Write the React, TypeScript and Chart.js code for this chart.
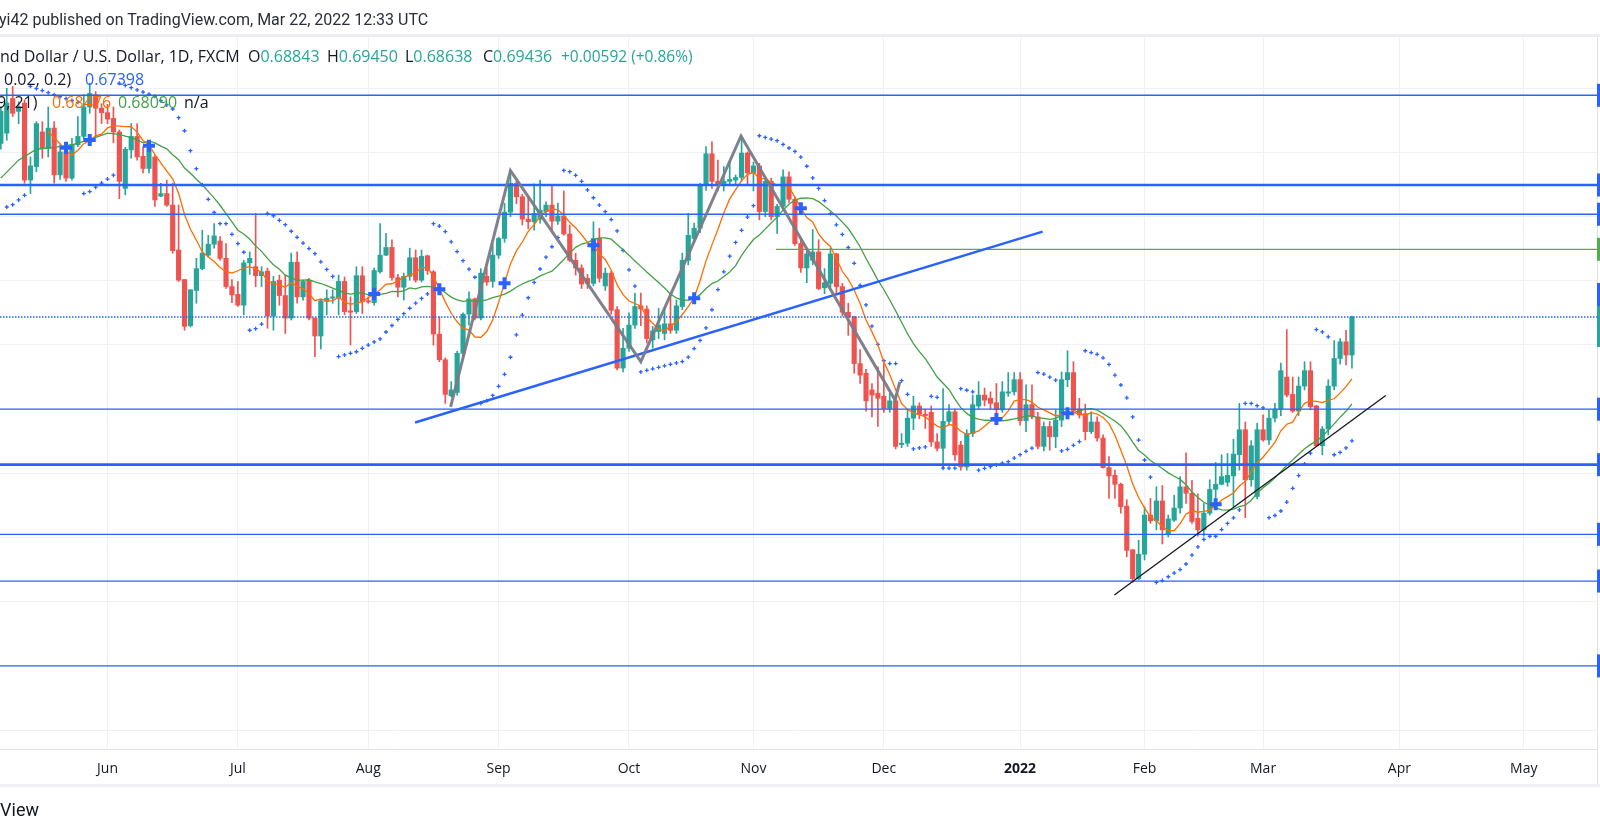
import React, { useEffect, useRef } from "react";
import { Chart, registerables } from "chart.js";

Chart.register(...registerables);

// ---------------- data ----------------
// bar index: Jun 1 2021 = 0, one step per trading day
const FIRST_BAR = -18;

const opens = [
  0.7214, 0.7230, 0.7284, 0.7264, 0.7277, 0.7157, 0.7178, 0.7232, 0.7206, 0.7238,
  0.7165, 0.7201, 0.7160, 0.7212, 0.7225, 0.7271, 0.7290, 0.7269, 0.7262, 0.7253,
  0.7232, 0.7144, 0.7204, 0.7225, 0.7194, 0.7175, 0.7193, 0.7132, 0.7136, 0.7118,
  0.7048, 0.7002, 0.6930, 0.6985, 0.7019, 0.7040, 0.7057, 0.7062, 0.7035, 0.6991,
  0.6979, 0.6962, 0.7028, 0.7022, 0.7008, 0.7015, 0.6945, 0.7001, 0.6977, 0.6942,
  0.7029, 0.6975, 0.7001, 0.6942, 0.6914, 0.6968, 0.6973, 0.6973, 0.6999, 0.6953,
  0.6952, 0.7008, 0.6969, 0.6966, 0.7014, 0.7040, 0.7052, 0.7005, 0.6990, 0.7007,
  0.7036, 0.7001, 0.7039, 0.7014, 0.6917, 0.6877, 0.6821, 0.6826, 0.6887, 0.6948,
  0.6972, 0.6942, 0.7007, 0.6999, 0.7040, 0.7066, 0.7107, 0.7152, 0.7131, 0.7096,
  0.7092, 0.7096, 0.7108, 0.7118, 0.7093, 0.7101, 0.7073, 0.7032, 0.7020, 0.7004,
  0.6996, 0.7066, 0.6992, 0.7012, 0.6955, 0.6864, 0.6895, 0.6931, 0.6961, 0.6956,
  0.6908, 0.6921, 0.6918, 0.6933, 0.6923, 0.6960, 0.7032, 0.7066, 0.7082, 0.7149,
  0.7198, 0.7155, 0.7149, 0.7155, 0.7157, 0.7161, 0.7199, 0.7168, 0.7179, 0.7108,
  0.7155, 0.7100, 0.7116, 0.7162, 0.7127, 0.7058, 0.7020, 0.7032, 0.7045, 0.6989,
  0.6996, 0.7042, 0.6991, 0.6951, 0.6944, 0.6871, 0.6856, 0.6830, 0.6825, 0.6820,
  0.6801, 0.6813, 0.6745, 0.6747, 0.6786, 0.6805, 0.6792, 0.6795, 0.6749, 0.6739,
  0.6781, 0.6796, 0.6744, 0.6710, 0.6762, 0.6805, 0.6822, 0.6817, 0.6810, 0.6799,
  0.6825, 0.6827, 0.6846, 0.6782, 0.6807, 0.6788, 0.6742, 0.6773, 0.6757, 0.6783,
  0.6846, 0.6857, 0.6800, 0.6793, 0.6765, 0.6780, 0.6755, 0.6709, 0.6697, 0.6683,
  0.6649, 0.6581, 0.6536, 0.6574, 0.6635, 0.6626, 0.6657, 0.6605, 0.6627, 0.6646,
  0.6679, 0.6669, 0.6630, 0.6612, 0.6638, 0.6675, 0.6683, 0.6686, 0.6696, 0.6729,
  0.6768, 0.6690, 0.6664, 0.6768, 0.6752, 0.6786, 0.6800, 0.6850, 0.6823, 0.6797,
  0.6836, 0.6860, 0.6805, 0.6743, 0.6769, 0.6836, 0.6879, 0.6905, 0.68843,
];

const highs = [
  0.7271, 0.7300, 0.7303, 0.7279, 0.7282, 0.7193, 0.7248, 0.7248, 0.7271, 0.7248,
  0.7212, 0.7214, 0.7222, 0.7256, 0.7290, 0.7308, 0.7295, 0.7276, 0.7275, 0.7271,
  0.7235, 0.7208, 0.7245, 0.7245, 0.7209, 0.7219, 0.7195, 0.7152, 0.7157, 0.7152,
  0.7118, 0.7002, 0.6986, 0.7035, 0.7079, 0.7071, 0.7089, 0.7069, 0.7058, 0.7002,
  0.6999, 0.7032, 0.7045, 0.7105, 0.7022, 0.7020, 0.7007, 0.7009, 0.7009, 0.7043,
  0.7045, 0.7001, 0.7004, 0.6942, 0.6971, 0.6986, 0.6986, 0.7009, 0.7006, 0.6975,
  0.7022, 0.7022, 0.6975, 0.7020, 0.7089, 0.7074, 0.7064, 0.7010, 0.7012, 0.7051,
  0.7048, 0.7048, 0.7040, 0.7016, 0.6944, 0.6880, 0.6843, 0.6890, 0.6950, 0.6983,
  0.6973, 0.7019, 0.7020, 0.7058, 0.7068, 0.7121, 0.7172, 0.7155, 0.7135, 0.7131,
  0.7151, 0.7157, 0.7123, 0.7150, 0.7121, 0.7140, 0.7087, 0.7043, 0.7025, 0.7010,
  0.7092, 0.7082, 0.7020, 0.7015, 0.6960, 0.6926, 0.6950, 0.6981, 0.6981, 0.6961,
  0.6929, 0.6957, 0.6957, 0.6978, 0.6970, 0.7043, 0.7105, 0.7090, 0.7152, 0.7209,
  0.7217, 0.7188, 0.7178, 0.7188, 0.7165, 0.7226, 0.7201, 0.7185, 0.7183, 0.7160,
  0.7160, 0.7119, 0.7173, 0.7170, 0.7130, 0.7064, 0.7048, 0.7080, 0.7064, 0.7019,
  0.7051, 0.7043, 0.6996, 0.6965, 0.6945, 0.6893, 0.6862, 0.6840, 0.6866, 0.6871,
  0.6825, 0.6823, 0.6762, 0.6799, 0.6820, 0.6810, 0.6800, 0.6805, 0.6762, 0.6832,
  0.6807, 0.6800, 0.6750, 0.6768, 0.6822, 0.6843, 0.6833, 0.6827, 0.6840, 0.6843,
  0.6857, 0.6857, 0.6857, 0.6838, 0.6838, 0.6795, 0.6780, 0.6781, 0.6799, 0.6858,
  0.6891, 0.6874, 0.6817, 0.6808, 0.6796, 0.6788, 0.6760, 0.6726, 0.6705, 0.6685,
  0.6659, 0.6581, 0.6596, 0.6648, 0.6661, 0.6679, 0.6681, 0.6635, 0.6666, 0.6695,
  0.6732, 0.6689, 0.6668, 0.6653, 0.6690, 0.6717, 0.6729, 0.6731, 0.6753, 0.6809,
  0.6780, 0.6751, 0.6778, 0.6791, 0.6799, 0.6809, 0.6872, 0.6924, 0.6850, 0.6850,
  0.6874, 0.6874, 0.6806, 0.6773, 0.6846, 0.6907, 0.6910, 0.6923, 0.6945,
];

const lows = [
  0.7205, 0.7219, 0.7256, 0.7245, 0.7152, 0.7136, 0.7170, 0.7191, 0.7193, 0.7152,
  0.7158, 0.7155, 0.7157, 0.7209, 0.7219, 0.7261, 0.7224, 0.7245, 0.7245, 0.7215,
  0.7128, 0.7134, 0.7191, 0.7188, 0.7168, 0.7168, 0.7116, 0.7131, 0.7116, 0.7043,
  0.6999, 0.6923, 0.6928, 0.6965, 0.7017, 0.7037, 0.7051, 0.7032, 0.6988, 0.6966,
  0.6960, 0.6947, 0.7010, 0.6991, 0.6991, 0.6926, 0.6923, 0.6962, 0.6918, 0.6939,
  0.6965, 0.6970, 0.6939, 0.6882, 0.6894, 0.6947, 0.6965, 0.6947, 0.6947, 0.6900,
  0.6949, 0.6949, 0.6965, 0.6962, 0.7012, 0.7039, 0.7001, 0.6975, 0.6970, 0.7001,
  0.6998, 0.6998, 0.7010, 0.6900, 0.6874, 0.6809, 0.6819, 0.6822, 0.6880, 0.6931,
  0.6939, 0.6939, 0.6993, 0.6990, 0.7035, 0.7060, 0.7100, 0.7120, 0.7087, 0.7081,
  0.7079, 0.7090, 0.7100, 0.7079, 0.7088, 0.7071, 0.7030, 0.7009, 0.6988, 0.6988,
  0.6992, 0.6998, 0.6985, 0.6948, 0.6861, 0.6858, 0.6890, 0.6926, 0.6930, 0.6903,
  0.6895, 0.6910, 0.6908, 0.6918, 0.6918, 0.6955, 0.7025, 0.7061, 0.7075, 0.7141,
  0.7144, 0.7140, 0.7140, 0.7148, 0.7150, 0.7155, 0.7150, 0.7140, 0.7095, 0.7100,
  0.7095, 0.7074, 0.7110, 0.7122, 0.7055, 0.7013, 0.6997, 0.7025, 0.6986, 0.6980,
  0.6990, 0.6980, 0.6945, 0.6915, 0.6856, 0.6840, 0.6797, 0.6788, 0.6773, 0.6795,
  0.6795, 0.6738, 0.6740, 0.6742, 0.6768, 0.6785, 0.6770, 0.6742, 0.6735, 0.6708,
  0.6775, 0.6720, 0.6705, 0.6705, 0.6757, 0.6800, 0.6805, 0.6800, 0.6790, 0.6795,
  0.6820, 0.6822, 0.6775, 0.6765, 0.6785, 0.6738, 0.6735, 0.6736, 0.6740, 0.6773,
  0.6835, 0.6791, 0.6786, 0.6752, 0.6762, 0.6750, 0.6708, 0.6661, 0.6661, 0.6638,
  0.6570, 0.6530, 0.6534, 0.6565, 0.6622, 0.6612, 0.6590, 0.6601, 0.6625, 0.6638,
  0.6653, 0.6622, 0.6602, 0.6602, 0.6635, 0.6653, 0.6682, 0.6680, 0.6648, 0.6705,
  0.6631, 0.6680, 0.6660, 0.6750, 0.6745, 0.6780, 0.6790, 0.6819, 0.6795, 0.6790,
  0.6830, 0.6799, 0.6742, 0.6729, 0.6760, 0.6830, 0.6870, 0.6869, 0.68638,
];

const closes = [
  0.7264, 0.7277, 0.7261, 0.7271, 0.7157, 0.7179, 0.7245, 0.7206, 0.7238, 0.7165,
  0.7201, 0.7160, 0.7212, 0.7225, 0.7271, 0.7292, 0.7269, 0.7262, 0.7252, 0.7232,
  0.7155, 0.7205, 0.7225, 0.7193, 0.7175, 0.7206, 0.7126, 0.7136, 0.7118, 0.7047,
  0.7001, 0.6929, 0.6986, 0.7019, 0.7043, 0.7057, 0.7070, 0.7035, 0.6991, 0.6978,
  0.6962, 0.7028, 0.7035, 0.7008, 0.7014, 0.6945, 0.6999, 0.6977, 0.6942, 0.7029,
  0.6975, 0.6999, 0.6942, 0.6914, 0.6969, 0.6973, 0.6975, 0.6999, 0.6952, 0.6951,
  0.7008, 0.6968, 0.6967, 0.7016, 0.7040, 0.7052, 0.7005, 0.6990, 0.7007, 0.7036,
  0.7001, 0.7038, 0.7016, 0.6917, 0.6877, 0.6823, 0.6830, 0.6887, 0.6948, 0.6972,
  0.6942, 0.7012, 0.6998, 0.7040, 0.7066, 0.7107, 0.7152, 0.7131, 0.7096, 0.7092,
  0.7105, 0.7110, 0.7118, 0.7093, 0.7101, 0.7073, 0.7032, 0.7020, 0.6995, 0.6996,
  0.7066, 0.7004, 0.7012, 0.6954, 0.6864, 0.6895, 0.6931, 0.6960, 0.6956, 0.6910,
  0.6922, 0.6931, 0.6933, 0.6923, 0.6961, 0.7032, 0.7071, 0.7082, 0.7149, 0.7198,
  0.7155, 0.7149, 0.7155, 0.7158, 0.7161, 0.7199, 0.7168, 0.7179, 0.7108, 0.7155,
  0.7100, 0.7116, 0.7162, 0.7127, 0.7058, 0.7020, 0.7042, 0.7045, 0.6988, 0.6997,
  0.7042, 0.6991, 0.6951, 0.6944, 0.6871, 0.6853, 0.6813, 0.6822, 0.6817, 0.6801,
  0.6813, 0.6742, 0.6747, 0.6786, 0.6805, 0.6792, 0.6790, 0.6749, 0.6739, 0.6781,
  0.6796, 0.6729, 0.6710, 0.6762, 0.6807, 0.6822, 0.6814, 0.6809, 0.6799, 0.6827,
  0.6827, 0.6846, 0.6782, 0.6807, 0.6788, 0.6742, 0.6773, 0.6757, 0.6783, 0.6846,
  0.6857, 0.6798, 0.6791, 0.6765, 0.6780, 0.6755, 0.6709, 0.6696, 0.6683, 0.6648,
  0.6580, 0.6536, 0.6574, 0.6635, 0.6626, 0.6657, 0.6612, 0.6629, 0.6646, 0.6679,
  0.6669, 0.6625, 0.6612, 0.6638, 0.6675, 0.6683, 0.6695, 0.6697, 0.6730, 0.6768,
  0.6690, 0.6743, 0.6768, 0.6752, 0.6786, 0.6800, 0.6860, 0.6822, 0.6797, 0.6836,
  0.6860, 0.6804, 0.6743, 0.6769, 0.6836, 0.6879, 0.6905, 0.68844, 0.69436,
];

// time axis (first trading day of each month, as bar index)
const monthTicks = [0, 22, 44, 66, 88, 109, 131, 154, 175, 195, 218, 239];
const monthLabels = ["Jun", "Jul", "Aug", "Sep", "Oct", "Nov", "Dec", "2022", "Feb", "Mar", "Apr", "May"];
const priceGrid = [0.63, 0.64, 0.65, 0.66, 0.67, 0.68, 0.69, 0.70, 0.71, 0.72, 0.73];

// horizontal levels drawn by the author
const levelPrices = [0.72891, 0.71493, 0.71037, 0.68, 0.67135, 0.6605, 0.65322, 0.64];
const levelWidths = [1.3, 2.7, 1.3, 1.3, 2.7, 1.3, 1.3, 1.3];
const greenLevelPrice = 0.70491;
const greenLevelStart = 112.8;
const lastPrice = 0.69436;

// zigzag pattern and trend lines (bar index, price)
const zigzagX = [57.9, 68.0, 90.0, 106.9, 132.9, 133.7];
const zigzagY = [0.68034, 0.71716, 0.6874, 0.72257, 0.68143, 0.68424];
const blueTrendX = [51.9, 157.8];
const blueTrendY = [0.67792, 0.70766];
const blackTrendX = [169.9, 215.7];
const blackTrendY = [0.65106, 0.68213];

// MA Cross markers
const crossX = [-7, -3, 7, 45, 56, 67, 82, 99, 117, 150, 162, 187];
const crossY = [0.72074, 0.72194, 0.72106, 0.69795, 0.69868, 0.69961, 0.70554, 0.69728, 0.7113, 0.67847, 0.67936, 0.66518];

// long MA before its 21-bar window is filled
const sma21LeadX = [-18, -15, -12, -9, -6, -3, 0];
const sma21LeadY = [0.7160, 0.7188, 0.7205, 0.7208, 0.7212, 0.7220, 0.7230];

// SAR state on the second visible bar (dot below price)
const sarStartValue = 0.7115;
const sarStartExtreme = 0.7300;
const sarStartAccel = 0.02;

// ---------------- view geometry ----------------
const X_MIN = -18.14;
const X_MAX = 251.35;
const Y_MIN = 0.62705;
const Y_MAX = 0.73799;

const FONT = "Roboto, 'Noto Sans', 'Liberation Sans', sans-serif";
const LEGEND_FONT = "'Open Sans', 'Noto Sans', sans-serif";
const UP = "#26a69a";
const DOWN = "#ef5350";
const BLUE = "#2962ff";
const ORANGE = "#ff6d00";
const GREEN = "#43a047";
const TEXT = "#131722";

// Simple moving average of the closes (MA Cross indicator)
function sma(values: number[], n: number) {
  const out: { x: number; y: number }[] = [];
  for (let i = n - 1; i < values.length; i++) {
    let s = 0;
    for (let k = i - n + 1; k <= i; k++) s += values[k];
    out.push({ x: FIRST_BAR + i, y: s / n });
  }
  return out;
}

// Parabolic SAR (0.02, 0.02, 0.2) of the candles, continuing from the read start state
function parabolicSar(h: number[], l: number[], start: number, inc: number, max: number) {
  const out: { x: number; y: number }[] = [{ x: FIRST_BAR + 1, y: sarStartValue }];
  let result = sarStartValue, maxMin = sarStartExtreme, acc = sarStartAccel, isBelow = true;
  for (let i = 2; i < h.length; i++) {
    let first = false;
    result = result + acc * (maxMin - result);
    if (isBelow) {
      if (result > l[i]) { first = true; isBelow = false; result = Math.max(h[i], maxMin); maxMin = l[i]; acc = start; }
    } else {
      if (result < h[i]) { first = true; isBelow = true; result = Math.min(l[i], maxMin); maxMin = h[i]; acc = start; }
    }
    if (!first) {
      if (isBelow) { if (h[i] > maxMin) { maxMin = h[i]; acc = Math.min(acc + inc, max); } }
      else { if (l[i] < maxMin) { maxMin = l[i]; acc = Math.min(acc + inc, max); } }
    }
    if (isBelow) result = Math.min(result, l[i - 1], l[i - 2]);
    else result = Math.max(result, h[i - 1], h[i - 2]);
    out.push({ x: FIRST_BAR + i, y: result });
  }
  return out;
}

const pts = (xs: number[], ys: number[]) => xs.map((x, i) => ({ x, y: ys[i] }));

const edgePlugin = {
  id: "priceEdge",
  afterDraw(chart: any) {
    const { ctx, chartArea, scales } = chart;
    const y = scales.y;
    const w = chart.width;
    ctx.save();
    ctx.fillStyle = "#e0e3eb";
    ctx.fillRect(chartArea.right, chartArea.top, 1, chartArea.bottom - chartArea.top + 36);
    levelPrices.forEach((p) => {
      const py = y.getPixelForValue(p);
      ctx.fillStyle = BLUE;
      ctx.fillRect(chartArea.right, py - 11.5, w - chartArea.right, 23);
    });
    const gy = y.getPixelForValue(greenLevelPrice);
    ctx.fillStyle = "#4caf50";
    ctx.fillRect(chartArea.right, gy - 11.5, w - chartArea.right, 23);
    const ly = y.getPixelForValue(lastPrice);
    ctx.fillStyle = BLUE;
    ctx.fillRect(chartArea.right, ly - 34, w - chartArea.right, 23);
    ctx.fillStyle = UP;
    ctx.fillRect(chartArea.right, ly - 11, w - chartArea.right, 41);
    ctx.restore();
  },
};

export default function App() {
  const canvasRef = useRef<HTMLCanvasElement>(null);

  useEffect(() => {
    const canvas = canvasRef.current;
    if (!canvas) return;
    const bars = closes.map((_, i) => FIRST_BAR + i);
    const colors = closes.map((c, i) => (c >= opens[i] ? UP : DOWN));

    const levelSets = levelPrices.map((p, i) => ({
      type: "line",
      data: [{ x: X_MIN, y: p }, { x: X_MAX, y: p }],
      borderColor: BLUE,
      borderWidth: levelWidths[i],
      pointRadius: 0,
      order: 1,
    }));

    const config: any = {
      type: "bar",
      data: {
        datasets: [
          ...levelSets,
          {
            type: "line",
            data: [{ x: X_MIN, y: lastPrice }, { x: X_MAX, y: lastPrice }],
            borderColor: BLUE,
            borderWidth: 1.5,
            borderDash: [1.5, 1.5],
            pointRadius: 0,
            order: 1,
          },
          {
            type: "line",
            data: [{ x: greenLevelStart, y: greenLevelPrice }, { x: X_MAX, y: greenLevelPrice }],
            borderColor: "#4caf50",
            borderWidth: 1.3,
            pointRadius: 0,
            order: 1,
          },
          {
            type: "line",
            data: pts(zigzagX, zigzagY),
            borderColor: "rgba(120,123,134,0.95)",
            borderWidth: 3,
            pointRadius: 0,
            order: 0,
          },
          {
            type: "line",
            data: pts(blueTrendX, blueTrendY),
            borderColor: BLUE,
            borderWidth: 2.5,
            pointRadius: 0,
            order: 0,
          },
          {
            type: "line",
            data: pts(blackTrendX, blackTrendY),
            borderColor: "#131722",
            borderWidth: 1.3,
            pointRadius: 0,
            order: 0,
          },
          {
            type: "line",
            data: pts(crossX, crossY),
            showLine: false,
            pointStyle: "cross",
            pointRadius: 6,
            pointBorderWidth: 4,
            pointBorderColor: BLUE,
            borderColor: BLUE,
            order: 2,
          },
          {
            type: "line",
            data: sma(closes, 9),
            borderColor: ORANGE,
            borderWidth: 1.3,
            pointRadius: 0,
            tension: 0,
            order: 3,
          },
          {
            type: "line",
            data: [...pts(sma21LeadX, sma21LeadY), ...sma(closes, 21)],
            borderColor: GREEN,
            borderWidth: 1.3,
            pointRadius: 0,
            tension: 0,
            order: 3,
          },
          {
            type: "line",
            data: parabolicSar(highs, lows, 0.02, 0.02, 0.2),
            showLine: false,
            pointStyle: "cross",
            pointRadius: 2,
            pointBorderWidth: 1.3,
            pointBorderColor: BLUE,
            borderColor: BLUE,
            order: 4,
          },
          {
            type: "bar",
            data: bars.map((x, i) => ({ x, y: [opens[i], closes[i]] })),
            backgroundColor: colors,
            barThickness: 4.5,
            minBarLength: 1,
            grouped: false,
            order: 5,
          },
          {
            type: "bar",
            data: bars.map((x, i) => ({ x, y: [lows[i], highs[i]] })),
            backgroundColor: colors,
            barThickness: 1,
            grouped: false,
            order: 6,
          },
        ],
      },
      options: {
        animation: false,
        responsive: false,
        events: [],
        layout: { autoPadding: false, padding: { top: 37, right: 3, left: 0, bottom: 0 } },
        plugins: { legend: { display: false }, tooltip: { enabled: false } },
        scales: {
          x: {
            type: "linear",
            min: X_MIN,
            max: X_MAX,
            offset: false,
            grid: { color: "#f0f1f4", drawTicks: false, offset: false },
            border: { display: true, color: "#e0e3eb" },
            afterBuildTicks: (scale: any) => {
              scale.ticks = monthTicks.map((v) => ({ value: v }));
            },
            afterFit: (scale: any) => {
              scale.height = 84;
              scale.paddingLeft = 0;
              scale.paddingRight = 0;
            },
            ticks: {
              autoSkip: false,
              maxRotation: 0,
              padding: 12,
              color: TEXT,
              font: (ctx: any) => ({
                family: LEGEND_FONT,
                size: 14,
                weight: ctx.tick && ctx.tick.value === 154 ? "bold" : "normal",
              }),
              callback: (v: any) => {
                const k = monthTicks.indexOf(Number(v));
                return k >= 0 ? monthLabels[k] : "";
              },
            },
          },
          y: {
            type: "linear",
            position: "right",
            min: Y_MIN,
            max: Y_MAX,
            grid: { color: "#f0f1f4", drawTicks: false },
            border: { display: false },
            ticks: { display: false },
            afterBuildTicks: (scale: any) => {
              scale.ticks = priceGrid.map((v) => ({ value: v }));
            },
            afterFit: (scale: any) => {
              scale.width = 0;
            },
          },
        },
      },
      plugins: [edgePlugin],
    };

    const chart = new Chart(canvas, config);
    return () => chart.destroy();
  }, []);

  const abs = (left: number, top: number, extra: any = {}) => ({
    position: "absolute" as const,
    left,
    top,
    whiteSpace: "nowrap" as const,
    lineHeight: "20px",
    fontFamily: LEGEND_FONT,
    fontSize: 16,
    ...extra,
  });

  return (
    <div
      style={{
        position: "fixed",
        left: 0,
        top: 0,
        width: 1600,
        height: 833,
        background: "#ffffff",
        overflow: "hidden",
        fontFamily: FONT,
        color: TEXT,
      }}
    >
      <canvas ref={canvasRef} width={1600} height={833} style={{ position: "absolute", left: 0, top: 0, width: 1600, height: 833 }} />

      <div style={abs(-1, 10, { fontFamily: FONT, fontSize: 16, color: "#2a2e39" })}>yi42 published on TradingView.com, Mar 22, 2022 12:33 UTC</div>
      <div style={{ position: "absolute", left: 0, top: 34, width: 1600, height: 3, background: "#eceef2" }} />

      <div style={abs(0, 46)}>nd Dollar / U.S. Dollar, 1D, FXCM</div>
      <div style={abs(248, 46)}>O<span style={{ color: UP }}>0.68843</span></div>
      <div style={abs(327, 46)}>H<span style={{ color: UP }}>0.69450</span></div>
      <div style={abs(405, 46)}>L<span style={{ color: UP }}>0.68638</span></div>
      <div style={abs(483, 46)}>C<span style={{ color: UP }}>0.69436</span></div>
      <div style={abs(561, 46, { color: UP, fontSize: 15.5 })}>+0.00592 (+0.86%)</div>

      <div style={abs(4, 69)}>0.02, 0.2)</div>
      <div style={abs(85, 69, { color: BLUE })}>0.67398</div>

      <div style={abs(-3, 92)}>9, 21)</div>
      <div style={abs(52, 92, { color: ORANGE })}>0.68476</div>
      <div style={abs(118, 92, { color: GREEN })}>0.68090</div>
      <div style={abs(184, 92)}>n/a</div>

      <div style={{ position: "absolute", left: 0, top: 784, width: 1600, height: 3, background: "#f0f1f5" }} />
      <div style={{ position: "absolute", right: 1561, top: 798, fontSize: 18, whiteSpace: "nowrap", lineHeight: "24px", color: TEXT }}>
        TradingView
      </div>
    </div>
  );
}
